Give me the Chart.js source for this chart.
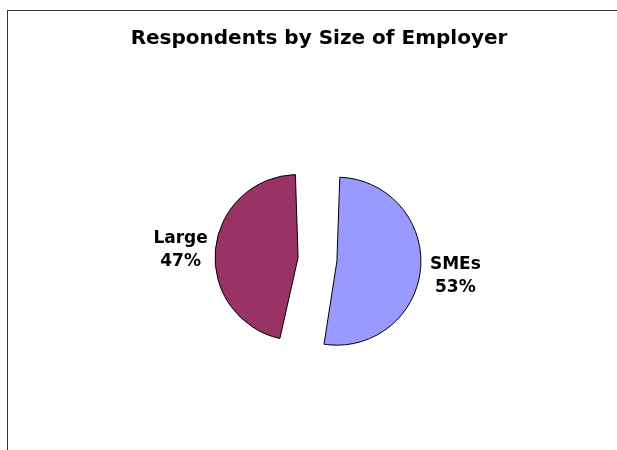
<!DOCTYPE html>
<html>
<head>
<meta charset="utf-8">
<script src="https://cdn.jsdelivr.net/npm/chart.js@4"></script>
<style>
    body { margin: 0; overflow: hidden; background: #fff; }
    #frame {
        position: absolute;
        left: 7px;
        top: 10px;
        width: 622px;
        height: 460px;
        border: 1px solid #333;
        background: #fff;
    }
</style>
</head>
<body>
<div id="frame">
    <canvas id="myChart" width="622" height="460"></canvas>
</div>
<script>
var categories = ['SMEs', 'Large'];
var shares = [53, 47];

// writes "name" and "nn%" beside each slice, along its middle angle
var outsideLabels = {
    id: 'outsideLabels',
    afterDatasetsDraw: function(chart) {
        var ctx = chart.ctx;
        var meta = chart.getDatasetMeta(0);
        var total = shares.reduce(function(a, b) { return a + b; }, 0);
        ctx.save();
        ctx.font = 'bold 17px "DejaVu Sans"';
        ctx.fillStyle = '#000';
        ctx.textAlign = 'center';
        ctx.textBaseline = 'middle';
        meta.data.forEach(function(arc, i) {
            var mid = (arc.startAngle + arc.endAngle) / 2;
            var dist = 138;
            var x = arc.x + Math.cos(mid) * dist - 1;
            var y = arc.y + Math.sin(mid) * dist + 3;
            var pct = Math.round(shares[i] / total * 100) + '%';
            ctx.fillText(categories[i], x, y - 11);
            ctx.fillText(pct, x, y + 12);
        });
        ctx.restore();
    }
};

var ctx = document.getElementById('myChart');
var myChart = new Chart(ctx, {
    type: 'pie',
    data: {
        labels: categories,
        datasets: [{
            data: shares,
            backgroundColor: ['#9999FF', '#993366'],
            borderColor: '#000',
            borderWidth: 1,
            // arcs move out by offset/4; the smaller slice grows a bit less, so it gets more
            offset: [72, 84],
            hoverOffset: 72
        }]
    },
    options: {
        responsive: false,
        animation: false,
        radius: 66,
        layout: {
            padding: { top: 0, bottom: 13, left: 0, right: 0 }
        },
        plugins: {
            legend: { display: false },
            tooltip: { enabled: false },
            title: {
                display: true,
                text: 'Respondents by Size of Employer',
                color: '#000',
                font: { family: 'DejaVu Sans', size: 20, weight: 'bold' },
                padding: { top: 16, bottom: 10 }
            }
        }
    },
    plugins: [outsideLabels]
});
</script>
</body>
</html>
